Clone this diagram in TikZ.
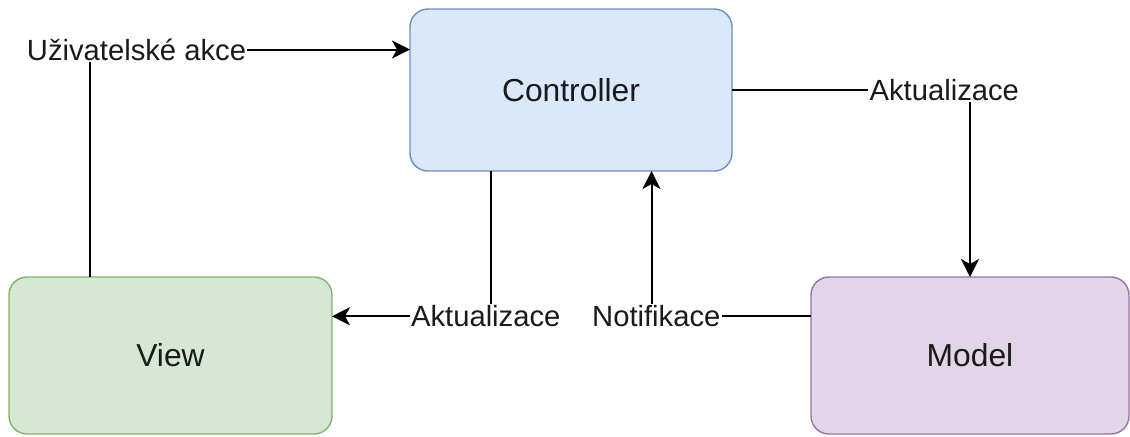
\documentclass[tikz,border=0pt]{standalone}
\usepackage{fontspec}
\setmainfont{Liberation Sans}
\usetikzlibrary{arrows.meta,calc}

\definecolor{ctrlfill}{HTML}{DAE8FC}
\definecolor{ctrldraw}{HTML}{6C8EBF}
\definecolor{viewfill}{HTML}{D5E8D4}
\definecolor{viewdraw}{HTML}{82B366}
\definecolor{modelfill}{HTML}{E1D5E7}
\definecolor{modeldraw}{HTML}{9673A6}
\definecolor{txt}{HTML}{1A1A1A}

\tikzset{
  box/.style={rectangle, rounded corners=9pt, line width=0.7pt,
    inner sep=0pt, outer sep=0pt, text=txt,
    font=\fontsize{15.9pt}{18pt}\selectfont},
  flow/.style={line width=1pt, -{Stealth[length=9pt,width=9pt,inset=2.5pt]}},
  lbl/.style={fill=white, inner sep=0.6pt, text=txt,
    font=\fontsize{14.6pt}{17pt}\selectfont},
}

\begin{document}
\begin{tikzpicture}[x=0.5pt, y=-0.5pt]
  \useasboundingbox (0,0) rectangle (1130,436);

  % the three MVC components
  \node[box, fill=ctrlfill, draw=ctrldraw, minimum width=161pt, minimum height=81pt]
    (ctrl) at (571,90) {Controller};
  \node[box, fill=viewfill, draw=viewdraw, minimum width=161.5pt, minimum height=78.5pt]
    (view) at (170.5,355.5) {View};
  \node[box, fill=modelfill, draw=modeldraw, minimum width=159pt, minimum height=78.5pt]
    (model) at (970,355.5) {Model};

  % attachment points on the box borders
  \coordinate (viewtop)  at ($(view.north west)!0.25!(view.north east)$);
  \coordinate (viewright) at ($(view.north east)!0.25!(view.south east)$);
  \coordinate (ctrlleft) at ($(ctrl.north west)!0.25!(ctrl.south west)$);
  \coordinate (ctrlbotL) at ($(ctrl.south west)!0.25!(ctrl.south east)$);
  \coordinate (ctrlbotR) at ($(ctrl.south west)!0.75!(ctrl.south east)$);
  \coordinate (modelleft) at ($(model.north west)!0.25!(model.south west)$);

  % user actions: View -> Controller
  \draw[flow] (viewtop) |- (ctrlleft)
    node[lbl, pos=0.573] {Uživatelské akce};

  % Controller updates the Model
  \draw[flow] (ctrl.east) -| (model.north)
    node[lbl, pos=0.446] {Aktualizace};

  % Controller updates the View
  \draw[flow] (ctrlbotL) |- (viewright)
    node[lbl, pos=0.515] {Aktualizace};

  % Model notifies the Controller
  \draw[flow] (modelleft) -| (ctrlbotR)
    node[lbl, pos=0.485] {Notifikace};
\end{tikzpicture}
\end{document}
